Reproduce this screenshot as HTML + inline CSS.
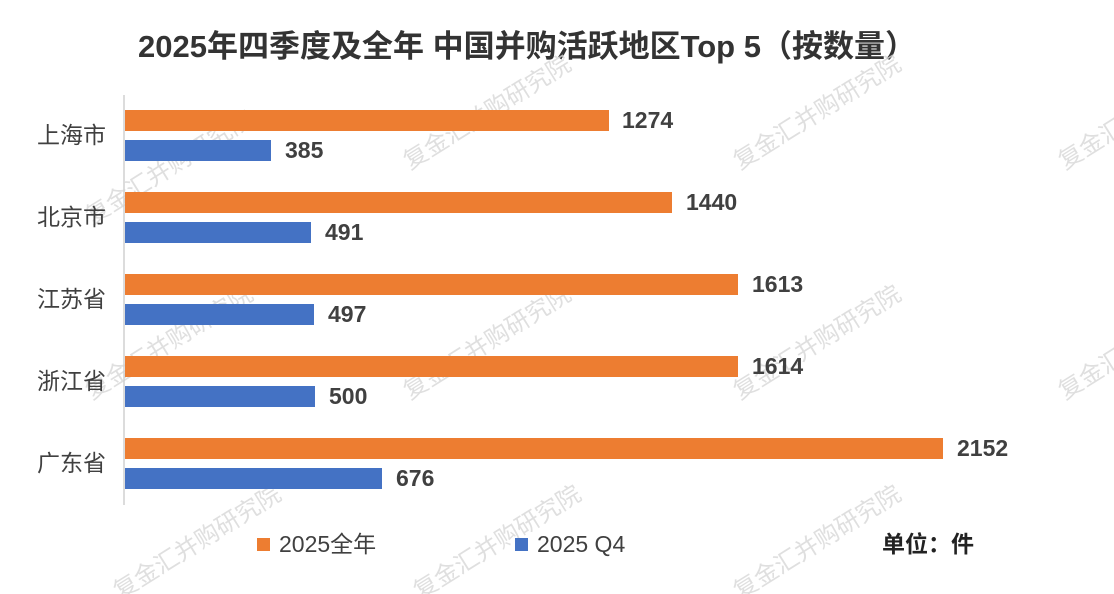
<!DOCTYPE html>
<html><head><meta charset="utf-8"><style>
html,body{margin:0;padding:0;background:#fff;}
svg{display:block;font-family:"Liberation Sans","Noto Sans CJK SC",sans-serif;}
</style></head><body>
<svg width="1114" height="594" viewBox="0 0 1114 594">
<rect width="1114" height="594" fill="#fff"/>
<text x="527" y="57" text-anchor="middle" font-size="31" font-weight="bold" fill="#333">2025年四季度及全年 中国并购活跃地区Top 5（按数量）</text>
<g fill="#d8d8d8" font-size="24" opacity="0.8">
<text transform="translate(92,225) rotate(-32)">复金汇并购研究院</text>
<text transform="translate(410,170) rotate(-32)">复金汇并购研究院</text>
<text transform="translate(740,170) rotate(-32)">复金汇并购研究院</text>
<text transform="translate(1065,170) rotate(-32)">复金汇并购研究院</text>
<text transform="translate(92,400) rotate(-32)">复金汇并购研究院</text>
<text transform="translate(410,400) rotate(-32)">复金汇并购研究院</text>
<text transform="translate(740,400) rotate(-32)">复金汇并购研究院</text>
<text transform="translate(1065,400) rotate(-32)">复金汇并购研究院</text>
<text transform="translate(120,600) rotate(-32)">复金汇并购研究院</text>
<text transform="translate(420,600) rotate(-32)">复金汇并购研究院</text>
<text transform="translate(740,600) rotate(-32)">复金汇并购研究院</text>
</g>
<line x1="124" y1="95" x2="124" y2="505" stroke="#d0d0d0" stroke-width="1.5"/>
<g font-size="23" fill="#404040">
<text x="106" y="143" text-anchor="end">上海市</text>
<text x="106" y="225" text-anchor="end">北京市</text>
<text x="106" y="307" text-anchor="end">江苏省</text>
<text x="106" y="389" text-anchor="end">浙江省</text>
<text x="106" y="471" text-anchor="end">广东省</text>
</g>
<g fill="#ED7D31">
<rect x="125" y="110" width="484" height="21"/>
<rect x="125" y="192" width="547" height="21"/>
<rect x="125" y="274" width="613" height="21"/>
<rect x="125" y="356" width="613" height="21"/>
<rect x="125" y="438" width="818" height="21"/>
</g>
<g fill="#4472C4">
<rect x="125" y="140" width="146" height="21"/>
<rect x="125" y="222" width="186" height="21"/>
<rect x="125" y="304" width="189" height="21"/>
<rect x="125" y="386" width="190" height="21"/>
<rect x="125" y="468" width="257" height="21"/>
</g>
<g font-size="23" fill="#404040" font-weight="bold">
<text x="622" y="128">1274</text>
<text x="285" y="158">385</text>
<text x="686" y="210">1440</text>
<text x="325" y="240">491</text>
<text x="752" y="292">1613</text>
<text x="328" y="322">497</text>
<text x="752" y="374">1614</text>
<text x="329" y="404">500</text>
<text x="957" y="456">2152</text>
<text x="396" y="486">676</text>
</g>
<rect x="257" y="538" width="13" height="13" fill="#ED7D31"/>
<text x="279" y="552" font-size="23" fill="#404040">2025全年</text>
<rect x="515" y="538" width="13" height="13" fill="#4472C4"/>
<text x="537" y="552" font-size="23" fill="#404040">2025 Q4</text>
<text x="882" y="552" font-size="23" font-weight="bold" fill="#222">单位：件</text>
</svg>
</body></html>
